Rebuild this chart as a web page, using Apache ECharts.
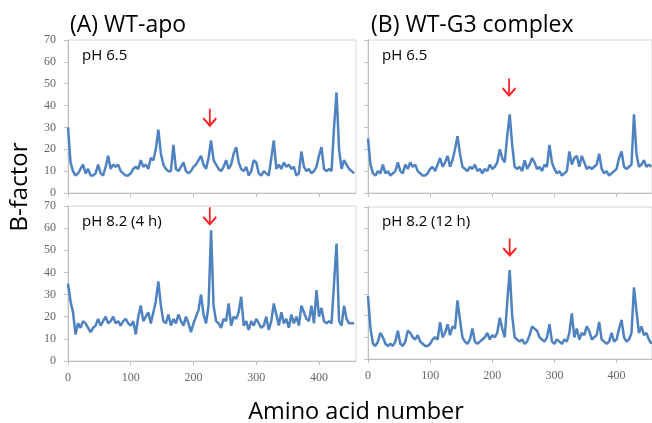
<!DOCTYPE html>
<html><head><meta charset="utf-8">
<script src="https://cdn.jsdelivr.net/npm/echarts@6/dist/echarts.min.js"></script>
<style>html,body{margin:0;padding:0;background:#fff}#c{width:652px;height:423px}</style>
</head><body><div id="c"></div><script>
// Amino acid number (sampled)
const residues = [0,4,8,12,16,20,24,28,32,36,40,44,48,52,56,60,64,68,72,76,80,84,88,92,96,100,104,108,112,116,120,124,128,132,136,140,144,148,152,156,160,164,168,172,176,180,184,188,192,196,200,204,208,212,216,220,224,228,232,236,240,244,248,252,256,260,264,268,272,276,280,284,288,292,296,300,304,308,312,316,320,324,328,332,336,340,344,348,352,356,360,364,368,372,376,380,384,388,392,396,400,404,408,412,416,420,424,428,432,436,440,444,448,452,456];
// (A) WT-apo, pH 6.5
const apoPH65 = [30,14,10,8,9,11,13,9,11,8,8,9,13,9,8,12,17,11,13,12,13,10,9,8,8,9,11,12,11,15,12,13,11,16,15,20,29,18,13,11,10,10,22,11,10,12,14,10,9,10,12,13,15,17,13,11,16,24,15,13,11,10,12,15,11,13,18,21,14,11,10,12,8,10,15,14,9,8,10,9,8,16,24,11,13,11,14,12,13,11,12,8,9,19,12,10,11,9,10,12,17,21,11,10,11,10,30,46,20,11,15,13,11,10,9];
// (A) WT-apo, pH 8.2 (4 h)
const apoPH82 = [35,27,22,12,17,15,18,17,15,13,15,16,19,16,18,20,17,18,20,17,18,16,18,19,17,16,18,12,20,25,18,20,22,17,22,27,36,25,18,17,21,16,19,17,21,18,16,20,17,13,17,20,23,30,21,17,25,59,25,18,17,15,19,18,26,16,20,19,22,29,16,18,14,18,16,19,17,15,16,20,14,18,26,21,16,22,17,19,15,21,17,20,16,25,22,19,18,25,17,32,20,24,18,17,18,17,35,53,18,16,25,19,17,17,17];
// (B) WT-G3 complex, pH 6.5
const g3PH65 = [25,13,9,8,10,9,13,9,10,8,9,10,14,10,9,13,11,14,12,13,10,9,8,8,9,11,12,10,13,16,12,14,17,12,15,20,26,18,12,11,10,12,11,13,10,11,9,11,10,13,11,12,14,20,16,14,26,36,22,12,11,12,10,15,11,13,16,14,11,12,10,13,12,22,14,11,9,10,8,9,10,19,13,16,17,12,17,14,11,12,11,12,13,18,11,9,10,8,9,10,11,16,19,12,11,12,13,36,18,12,13,15,12,13,12];
// (B) WT-G3 complex, pH 8.2 (12 h)
const g3PH82 = [29,14,7,6,8,12,10,7,6,7,6,8,13,7,6,8,13,12,10,9,11,8,7,6,6,7,9,10,9,17,10,12,16,11,15,14,27,18,10,8,7,9,14,8,7,8,9,10,12,9,11,10,12,19,14,10,26,41,20,10,9,8,9,7,8,11,15,14,13,10,9,8,10,16,8,7,9,8,7,9,8,12,21,10,14,9,12,11,15,13,9,10,11,17,9,8,7,8,12,8,9,14,18,10,8,9,12,33,22,12,15,11,12,9,7];

const xTickLabels = [0,100,200,300,400];
const panelTitles = ['(A) WT-apo','(B) WT-G3 complex'];
const panelLabels = ['pH 6.5','pH 8.2 (4 h)','pH 6.5','pH 8.2 (12 h)'];
const arrowMarks = [[226,34.7],[226,65.6],[227,48.5],[228,51.6]];
const seriesValues = [apoPH65, apoPH82, g3PH65, g3PH82];

const grids = [
  {left:68, top:40, width:288, height:153},
  {left:68, top:206, width:288, height:155},
  {left:368, top:40, width:284, height:153},
  {left:368, top:207, width:284, height:152}
];
const xMax = [459,459,457,457];
const lineColor = '#4f82c0';
const axisGray = '#bfbfbf';
const labelFont = {fontFamily:'Liberation Serif', fontSize:12, color:'#666'};
const arrowPath = 'path://M7,0 L7,16 M1,9 L7,16 L13,9';

const option = {
  backgroundColor:'#fff',
  animation:false,
  grid: grids.map(g=>Object.assign({show:true, borderColor:'#d6d6d6', borderWidth:1, backgroundColor:'#fff'}, g)),
  xAxis: grids.map((g,i)=>({
    type:'value', gridIndex:i, min:0, max:xMax[i],
    axisLine:{show:true, lineStyle:{color:axisGray}},
    axisTick:{show:true, length:4, lineStyle:{color:axisGray}, customValues:xTickLabels},
    axisLabel:{show:(i===1||i===3), margin:11, customValues:xTickLabels, ...labelFont},
    splitLine:{show:false}
  })),
  yAxis: grids.map((g,i)=>({
    type:'value', gridIndex:i, min:0, max:70, interval:10,
    axisLine:{show:true, lineStyle:{color:axisGray}},
    axisTick:{show:true, length:4, lineStyle:{color:axisGray}},
    axisLabel:{show:(i<2), margin:12, ...labelFont},
    splitLine:{show:false}
  })),
  series: seriesValues.map((vals,i)=>({
    type:'line', xAxisIndex:i, yAxisIndex:i,
    data: residues.map((r,k)=>[r, vals[k]]),
    showSymbol:false, symbol:'none',
    lineStyle:{color:lineColor, width:2.5},
    markPoint:{
      symbol:arrowPath, symbolSize:[13,17],
      itemStyle:{color:'none', borderColor:'#ff2020', borderWidth:2},
      label:{show:false},
      data:[{coord:arrowMarks[i]}]
    }
  })),
  graphic: [
    {type:'text', x:70, y:25, style:{text:panelTitles[0], font:'23px "Open Sans"', fill:'#000', verticalAlign:'middle'}},
    {type:'text', x:371, y:25, style:{text:panelTitles[1], font:'23px "Open Sans"', fill:'#000', verticalAlign:'middle'}},
    {type:'text', x:82, y:56, style:{text:panelLabels[0], font:'15px "Open Sans"', fill:'#000', verticalAlign:'middle'}},
    {type:'text', x:82, y:222, style:{text:panelLabels[1], font:'15px "Open Sans"', fill:'#000', verticalAlign:'middle'}},
    {type:'text', x:382, y:56, style:{text:panelLabels[2], font:'15px "Open Sans"', fill:'#000', verticalAlign:'middle'}},
    {type:'text', x:382, y:222, style:{text:panelLabels[3], font:'15px "Open Sans"', fill:'#000', verticalAlign:'middle'}},
    {type:'text', x:20, y:187, rotation:Math.PI/2, style:{text:'B-factor', font:'24px "Open Sans"', fill:'#000', align:'center', verticalAlign:'middle'}},
    {type:'text', x:356, y:412, style:{text:'Amino acid number', font:'23.5px "Open Sans"', fill:'#000', align:'center', verticalAlign:'middle'}}
  ]
};
const chart = echarts.init(document.getElementById('c'), null, {renderer:'canvas'});
chart.setOption(option);
</script></body></html>
